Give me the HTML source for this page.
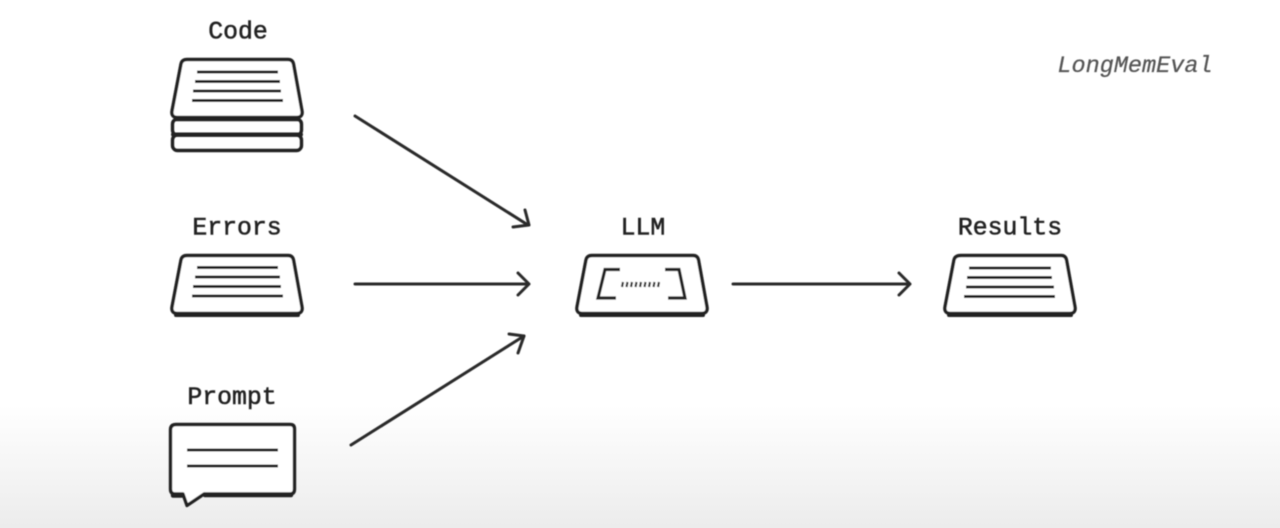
<!DOCTYPE html>
<html>
<head>
<meta charset="utf-8">
<style>
html,body{margin:0;padding:0;width:1280px;height:528px;overflow:hidden;background:#fff}
svg{display:block}
text{font-family:"Liberation Mono","DejaVu Sans Mono",monospace;fill:#222;stroke:#222;stroke-width:.55px;font-size:24.8px;text-anchor:middle}
</style>
</head>
<body>
<svg width="1280" height="528" viewBox="0 0 1280 528" xmlns="http://www.w3.org/2000/svg">
<defs>
<linearGradient id="bg" x1="0" y1="0" x2="0" y2="1">
<stop offset="0" stop-color="#ffffff"/>
<stop offset="1" stop-color="#ececec"/>
</linearGradient>
<filter id="b" x="-5%" y="-5%" width="110%" height="110%"><feGaussianBlur stdDeviation="0.5"/></filter>
</defs>
<rect width="1280" height="528" fill="#fff"/>
<rect y="405" width="1280" height="123" fill="url(#bg)"/>
<g filter="url(#b)">
<text x="238" y="38.500">Code</text>
<text x="237" y="234.500">Errors</text>
<text x="643" y="234.500">LLM</text>
<text x="1010" y="234.500">Results</text>
<text x="232" y="404">Prompt</text>
<text x="1135" y="72" style="font-size:23.5px;font-style:italic;fill:#555;stroke:#555;stroke-width:.25px">LongMemEval</text>

<g fill="none" stroke="#222" stroke-width="3.400" stroke-linejoin="round" stroke-linecap="round">
<!-- Code stack -->
<rect x="172.500" y="119" width="129" height="16" rx="5"/>
<rect x="172.500" y="135" width="129" height="15.500" rx="5"/>
<path d="M173 134.500H301" stroke-width="4"/>
<path d="M187 59.500H288Q292.500 59.500 293.500 64L302 111Q303 117.500 296 117.500H178Q171 117.500 172 111L181 64Q182 59.500 187 59.500Z" fill="#fff"/>
<path d="M176 119H298" stroke-width="4.500"/>
<path d="M197 72H278M195 81.500H280M193 91H281M192 100.500H283" stroke-width="3" stroke-linecap="butt"/>

<!-- Errors -->
<path d="M187 255.500H288Q292.500 255.500 293.500 260L302 307Q303 313.500 296 313.500H178Q171 313.500 172 307L181 260Q182 255.500 187 255.500Z" fill="#fff"/>
<path d="M176 315H298" stroke-width="4"/>
<path d="M197 267.500H278M195 277H280M193 286.500H281M192 296H283" stroke-width="3" stroke-linecap="butt"/>

<!-- LLM -->
<path d="M592 255.500H693Q697.500 255.500 698.500 260L707 307Q708 313.500 701 313.500H583Q576 313.500 577 307L586 260Q587 255.500 592 255.500Z" fill="#fff"/>
<path d="M581 315H703" stroke-width="4"/>
<path d="M620 269.500H605L598 298H616M665 269.500H679L685 298H668" stroke-width="3.200" stroke-linecap="butt" stroke-linejoin="miter"/>
<path d="M622 287L623 282M626.500 287L627.500 282M631 287L632 282M635.500 287L636.500 282M640 287L641 282M644.500 287L645.500 282M649 287L650 282M653.500 287L654.500 282M658 287L659 282" stroke-width="2.200" stroke-linecap="butt" stroke="#333"/>

<!-- Results -->
<path d="M961 255.500H1061Q1065.500 255.500 1066.500 260L1075 307Q1076 313.500 1069 313.500H951Q944 313.500 945 307L954 260Q955 255.500 961 255.500Z" fill="#fff"/>
<path d="M949 315H1071" stroke-width="4"/>
<path d="M969 268H1051M967 277.500H1052M966 287H1054M964 296.500H1055" stroke-width="3" stroke-linecap="butt"/>

<!-- Prompt -->
<path d="M176 424.500H290Q294.500 424.500 294.500 429V489Q294.500 494 290 494H204L187 505.500L183 494H175Q170.500 494 170.500 489V430Q170.500 424.500 176 424.500Z" fill="#fff"/>
<path d="M205 495H291M173 495.500H182" stroke-width="4.500"/>
<path d="M187 450H278M187 466H278" stroke-width="3" stroke-linecap="butt"/>

<!-- Arrows -->
<g stroke-width="3" stroke="#2a2a2a">
<path d="M355 116L528 225"/>
<path d="M525 210L529 225L513 227"/>
<path d="M355 284H528"/>
<path d="M518 273L529 284L518 295"/>
<path d="M351 445L524 336"/>
<path d="M509 334L524 336L518 353"/>
<path d="M733 284H908"/>
<path d="M899 273L910 284L899 295"/>
</g>
</g>
</g>
</svg>
</body>
</html>
